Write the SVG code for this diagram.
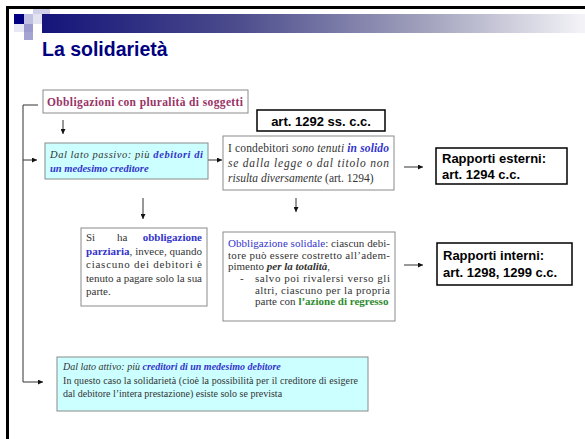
<svg xmlns="http://www.w3.org/2000/svg" width="585" height="439" viewBox="0 0 585 439">
<defs>
<linearGradient id="bar" x1="0" y1="0" x2="1" y2="0">
<stop offset="0" stop-color="#14147a"/>
<stop offset="0.35" stop-color="#4a4a8c"/>
<stop offset="0.7" stop-color="#a0a0bc"/>
<stop offset="1" stop-color="#f4f4f8"/>
</linearGradient>
<marker id="ah" viewBox="0 0 10 10" refX="10" refY="5" markerWidth="5" markerHeight="5" orient="auto" markerUnits="userSpaceOnUse">
<path d="M0,0 L10,5 L0,10 z" fill="#111"/>
</marker>
<style>
.frame{fill:none;stroke:#000;stroke-width:3}
.box{fill:#fff;stroke:#8a8a8a;stroke-width:1}
.cyan{fill:#ccffff;stroke:#8a8a8a;stroke-width:1}
.art{fill:#fff;stroke:#000;stroke-width:1.5}
.conn{fill:none;stroke:#333;stroke-width:1}
.arr{fill:none;stroke:#333;stroke-width:1;marker-end:url(#ah)}
.t{font-family:"Liberation Serif","Times New Roman",serif;font-size:10.5px;fill:#333}
.s11{font-size:11px}
.s115{font-size:11.5px}
.s10{font-size:10px}
.i{font-style:italic}
.b{font-weight:bold}
.blue{fill:#3333cc}
.green{fill:#2e8b2e}
.h{font-family:"Liberation Sans",Arial,sans-serif;font-weight:bold;font-size:13px;fill:#000}
</style>
</defs>
<rect width="585" height="439" fill="#fff"/>
<path class="frame" d="M7.5,439 V7.5 H585"/>
<g id="header">
<rect x="42" y="14" width="543" height="19" fill="url(#bar)"/>
<rect x="33" y="9" width="17" height="5" fill="#d0d0e8"/>
<rect x="14" y="14" width="10" height="10" fill="#000080"/>
<rect x="24" y="14" width="9" height="10" fill="#c0c0e0"/>
<rect x="33" y="14" width="9" height="10" fill="#e2e2f0"/>
<rect x="14" y="24" width="10" height="8" fill="#e8e8f4"/>
<rect x="24" y="24" width="9" height="8" fill="#9a9acc"/>
<rect x="24" y="32" width="9" height="8" fill="#a4a4d2"/>
<text x="42" y="56" font-family="Liberation Sans, Arial, sans-serif" font-weight="bold" font-size="19.5" fill="#000080">La solidarietà</text>
</g>
<g id="connectors">
<path class="conn" d="M38,105 H23 V382"/>
<path class="arr" d="M23,160 H37"/>
<path class="arr" d="M23,382 H43"/>
<path class="arr" d="M63,120 V134"/>
<path class="arr" d="M208,160 H222"/>
<path class="arr" d="M296,198 V212"/>
<path class="arr" d="M143,198 V219"/>
<path class="arr" d="M404,167 H423"/>
<path class="arr" d="M404,265 H423"/>
</g>
<g id="n1">
<rect class="box" x="43" y="90" width="205" height="23"/>
<text class="t b" x="47" y="106" style="fill:#993366;font-size:11.5px" textLength="196">Obbligazioni con pluralità di soggetti</text>
</g>
<g id="n2">
<rect class="cyan" x="45" y="143" width="163" height="36"/>
<text class="t i" x="50" y="158" textLength="153">Dal lato passivo: più <tspan class="b blue">debitori di</tspan></text>
<text class="t i b blue" x="50" y="172">un medesimo creditore</text>
</g>
<g id="art1292">
<rect class="art" x="257" y="110" width="128" height="21"/>
<text class="h" x="321" y="125.5" text-anchor="middle">art. 1292 ss. c.c.</text>
</g>
<g id="n3">
<rect class="box" x="223" y="136" width="171" height="54"/>
<text class="t s115" x="228" y="152" textLength="161">I condebitori <tspan class="i">sono tenuti </tspan><tspan class="i b blue">in solido</tspan></text>
<text class="t s115 i" x="228" y="167" textLength="161">se dalla legge o dal titolo non</text>
<text class="t s115" x="228" y="182"><tspan class="i">risulta diversamente</tspan> (art. 1294)</text>
</g>
<g id="esterni">
<rect class="art" x="436" y="148" width="131" height="36"/>
<text class="h" x="442" y="163">Rapporti esterni:</text>
<text class="h" x="442" y="179">art. 1294 c.c.</text>
</g>
<g id="n4">
<rect class="box" x="81" y="228" width="126" height="78"/>
<text class="t s11" x="86" y="241">Si</text>
<text class="t s11" x="117" y="241">ha</text>
<text class="t s11 b blue" x="202" y="241" text-anchor="end">obbligazione</text>
<text class="t s11" x="86" y="254.5" textLength="116"><tspan class="b blue">parziaria</tspan>, invece, quando</text>
<text class="t s11" x="86" y="268" textLength="116">ciascuno dei debitori è</text>
<text class="t s11" x="86" y="281.5" textLength="116">tenuto a pagare solo la sua</text>
<text class="t s11" x="86" y="295">parte.</text>
</g>
<g id="n5">
<rect class="box" x="223" y="232" width="172" height="89"/>
<text class="t s11" x="228" y="247" textLength="162"><tspan class="blue">Obbligazione solidale</tspan>: ciascun debi-</text>
<text class="t s11" x="228" y="258.5" textLength="162">tore può essere costretto all’adem-</text>
<text class="t s11" x="228" y="270">pimento <tspan class="i b">per la totalità</tspan>,</text>
<text class="t s11" x="240" y="282">-</text>
<text class="t s11" x="255" y="282" textLength="135">salvo poi rivalersi verso gli</text>
<text class="t s11" x="255" y="293.5" textLength="135">altri, ciascuno per la propria</text>
<text class="t s11" x="255" y="305">parte con <tspan class="b green">l’azione di regresso</tspan></text>
</g>
<g id="interni">
<rect class="art" x="437" y="243" width="135" height="42"/>
<text class="h" x="443" y="260">Rapporti interni:</text>
<text class="h" x="443" y="277">art. 1298, 1299 c.c.</text>
</g>
<g id="n6">
<rect class="cyan" x="57" y="357" width="311" height="54"/>
<text class="t s10 i" x="63" y="370">Dal lato attivo: più <tspan class="b blue">creditori di un medesimo debitore</tspan></text>
<text class="t s10" x="63" y="383.5" textLength="295">In questo caso la solidarietà (cioè la possibilità per il creditore di esigere</text>
<text class="t s10" x="63" y="397">dal debitore l’intera prestazione) esiste solo se prevista</text>
</g>
</svg>
